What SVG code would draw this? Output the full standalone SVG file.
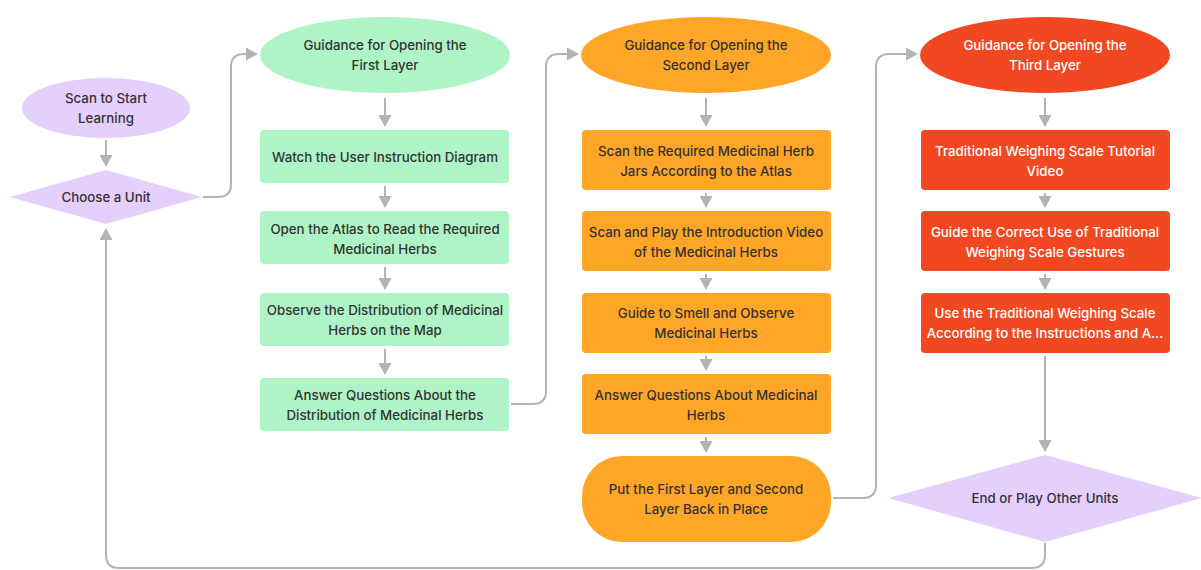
<svg xmlns="http://www.w3.org/2000/svg" width="1201" height="570" viewBox="0 0 1201 570">
<style>
text{font-family:Inter,"Noto Sans",sans-serif;font-size:13.3px;font-weight:500;fill:#333;text-anchor:middle;dominant-baseline:central}
.w text,text.w{fill:#fff}
.pu{fill:#E5CFFD}
.gr{fill:#AFF4C6}
.or{fill:#FFA629}
.rd{fill:#F24822}
.c{fill:none;stroke:#b3b3b3;stroke-width:2}
</style>
<defs>
<marker id="ah" markerUnits="userSpaceOnUse" markerWidth="13" markerHeight="13" refX="10" refY="6.5" orient="auto">
<path d="M0,0 L12,6.5 L0,13 z" fill="#b3b3b3"/>
</marker>
</defs>
<g id="connectors">
<path class="c" marker-end="url(#ah)" d="M106,140 L106,165"/>
<path class="c" marker-end="url(#ah)" d="M203,197 L218,197 Q231,197 231,184 L231,67 Q231,54 244,54 L256,54"/>
<path class="c" marker-end="url(#ah)" d="M385,98 L385,125"/>
<path class="c" marker-end="url(#ah)" d="M385,186 L385,206"/>
<path class="c" marker-end="url(#ah)" d="M385,267 L385,288"/>
<path class="c" marker-end="url(#ah)" d="M385,349 L385,373"/>
<path class="c" marker-end="url(#ah)" d="M511,404 L533,404 Q546,404 546,391 L546,67 Q546,54 559,54 L577,54"/>
<path class="c" marker-end="url(#ah)" d="M706,98 L706,125"/>
<path class="c" marker-end="url(#ah)" d="M706,193 L706,206"/>
<path class="c" marker-end="url(#ah)" d="M706,274 L706,288"/>
<path class="c" marker-end="url(#ah)" d="M706,356 L706,369"/>
<path class="c" marker-end="url(#ah)" d="M706,437 L706,451"/>
<path class="c" marker-end="url(#ah)" d="M833,498 L863,498 Q876,498 876,485 L876,67 Q876,54 889,54 L916,54"/>
<path class="c" marker-end="url(#ah)" d="M1045,98 L1045,125"/>
<path class="c" marker-end="url(#ah)" d="M1045,193 L1045,206"/>
<path class="c" marker-end="url(#ah)" d="M1045,274 L1045,288"/>
<path class="c" marker-end="url(#ah)" d="M1045,356 L1045,450"/>
<path class="c" marker-end="url(#ah)" d="M1045,543 L1045,555 Q1045,568 1032,568 L119,568 Q106,568 106,555 L106,230"/>
</g>
<g id="scan"><ellipse class="pu" cx="106" cy="108" rx="84" ry="30"/><text x="106" y="98">Scan to Start</text><text x="106" y="118">Learning</text></g>
<g id="choose"><polygon class="pu" points="10,197 106,170 202,197 106,224"/><text x="106" y="197">Choose a Unit</text></g>
<g id="g1"><ellipse class="gr" cx="385" cy="55" rx="125" ry="38"/><text x="385" y="45">Guidance for Opening the</text><text x="385" y="65">First Layer</text></g>
<g id="b11"><rect class="gr" x="260" y="130" width="249" height="53" rx="4"/><text x="385" y="157">Watch the User Instruction Diagram</text></g>
<g id="b12"><rect class="gr" x="260" y="211" width="249" height="53" rx="4"/><text x="385" y="229">Open the Atlas to Read the Required</text><text x="385" y="249">Medicinal Herbs</text></g>
<g id="b13"><rect class="gr" x="260" y="293" width="249" height="53" rx="4"/><text x="385" y="310">Observe the Distribution of Medicinal</text><text x="385" y="330">Herbs on the Map</text></g>
<g id="b14"><rect class="gr" x="260" y="378" width="249" height="53" rx="4"/><text x="385" y="395">Answer Questions About the</text><text x="385" y="415">Distribution of Medicinal Herbs</text></g>
<g id="g2"><ellipse class="or" cx="706" cy="55" rx="125" ry="38"/><text x="706" y="45">Guidance for Opening the</text><text x="706" y="65">Second Layer</text></g>
<g id="b21"><rect class="or" x="582" y="130" width="249" height="60" rx="4"/><text x="706" y="151">Scan the Required Medicinal Herb</text><text x="706" y="171">Jars According to the Atlas</text></g>
<g id="b22"><rect class="or" x="582" y="211" width="249" height="60" rx="4"/><text x="706" y="232">Scan and Play the Introduction Video</text><text x="706" y="252">of the Medicinal Herbs</text></g>
<g id="b23"><rect class="or" x="582" y="293" width="249" height="60" rx="4"/><text x="706" y="313">Guide to Smell and Observe</text><text x="706" y="333">Medicinal Herbs</text></g>
<g id="b24"><rect class="or" x="582" y="374" width="249" height="60" rx="4"/><text x="706" y="395">Answer Questions About Medicinal</text><text x="706" y="415">Herbs</text></g>
<g id="b25"><rect class="or" x="582" y="456" width="249" height="86" rx="40"/><text x="706" y="489">Put the First Layer and Second</text><text x="706" y="509">Layer Back in Place</text></g>
<g id="g3" class="w"><ellipse class="rd" cx="1045" cy="55" rx="125" ry="38"/><text x="1045" y="45">Guidance for Opening the</text><text x="1045" y="65">Third Layer</text></g>
<g id="b31" class="w"><rect class="rd" x="921" y="130" width="249" height="60" rx="4"/><text x="1045" y="151">Traditional Weighing Scale Tutorial</text><text x="1045" y="171">Video</text></g>
<g id="b32" class="w"><rect class="rd" x="921" y="211" width="249" height="60" rx="4"/><text x="1045" y="232">Guide the Correct Use of Traditional</text><text x="1045" y="252">Weighing Scale Gestures</text></g>
<g id="b33" class="w"><rect class="rd" x="921" y="293" width="249" height="60" rx="4"/><text x="1045" y="313">Use the Traditional Weighing Scale</text><text x="1045" y="333">According to the Instructions and A...</text></g>
<g id="end"><polygon class="pu" points="888,498 1045,455 1202,498 1045,542"/><text x="1045" y="498">End or Play Other Units</text></g>
</svg>
